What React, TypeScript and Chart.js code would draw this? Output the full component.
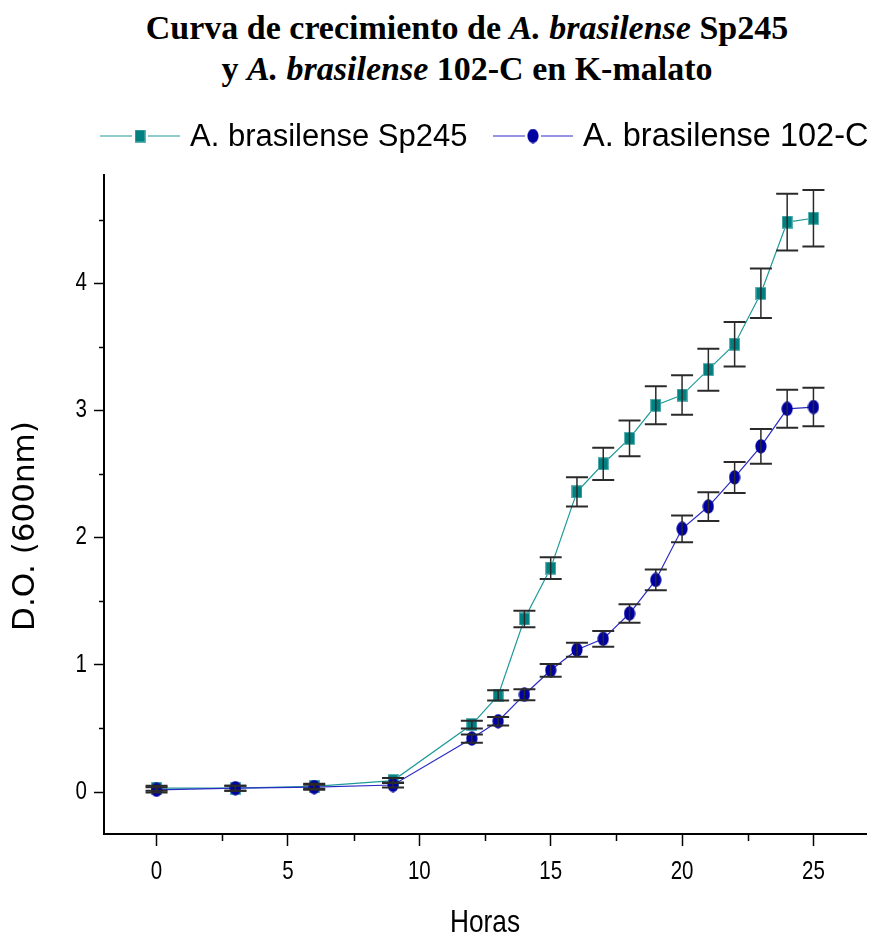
import React, { useEffect, useRef } from 'react';
import { Chart, registerables } from 'chart.js';

Chart.register(...registerables);

// ---------- data ----------
const hours = [0, 3, 6, 9, 12, 13, 14, 15, 16, 17, 18, 19, 20, 21, 22, 23, 24, 25];
const sp245 = [0.03, 0.03, 0.045, 0.09, 0.53, 0.76, 1.36, 1.76, 2.36, 2.58, 2.78, 3.04, 3.12, 3.32, 3.52, 3.92, 4.48, 4.51];
const sp245Err = [0.02, 0.02, 0.02, 0.02, 0.03, 0.04, 0.065, 0.085, 0.115, 0.127, 0.14, 0.15, 0.155, 0.165, 0.175, 0.195, 0.223, 0.223];
const c102 = [0.017, 0.03, 0.038, 0.055, 0.42, 0.556, 0.765, 0.957, 1.118, 1.204, 1.403, 1.667, 2.069, 2.244, 2.473, 2.717, 3.012, 3.026];
const c102Err = [0.02, 0.02, 0.02, 0.02, 0.033, 0.034, 0.043, 0.05, 0.055, 0.062, 0.072, 0.082, 0.105, 0.113, 0.122, 0.137, 0.149, 0.151];
const seriesNames = ['A. brasilense Sp245', 'A. brasilense 102-C'];
const xTicks = [0, 5, 10, 15, 20, 25];
const xMinorTicks = [2.5, 7.5, 12.5, 17.5, 22.5];
const yTicks = [0, 1, 2, 3, 4];
const yMinorTicks = [0.5, 1.5, 2.5, 3.5, 4.5];
const xTitle = 'Horas';
const yTitle = 'D.O. (600nm)';

const TEAL = '#008080';
const TEAL_LINE = '#1f9a9a';
const NAVY = '#0000a0';
const BLUE_LINE = '#2a2ac4';
const SANS = '"Liberation Sans", Arial, sans-serif';

function makeSquare(): HTMLCanvasElement {
  const c = document.createElement('canvas');
  c.width = 11;
  c.height = 13;
  const ctx = c.getContext('2d')!;
  ctx.fillStyle = '#5fb3b3';
  ctx.fillRect(0, 0, 11, 13);
  ctx.fillStyle = TEAL;
  ctx.fillRect(1, 1, 9, 11);
  return c;
}

function makeEllipse(): HTMLCanvasElement {
  const c = document.createElement('canvas');
  c.width = 12;
  c.height = 15;
  const ctx = c.getContext('2d')!;
  ctx.fillStyle = NAVY;
  ctx.beginPath();
  ctx.ellipse(6, 7.5, 5.6, 7.2, 0, 0, Math.PI * 2);
  ctx.fill();
  return c;
}

function narrowText(ctx: CanvasRenderingContext2D, text: string, x: number, y: number, size: number, align: CanvasTextAlign) {
  ctx.save();
  ctx.translate(x, y);
  ctx.scale(0.82, 1);
  ctx.font = `${size}px ${SANS}`;
  ctx.fillStyle = '#000';
  ctx.textAlign = align;
  ctx.textBaseline = 'middle';
  ctx.fillText(text, 0, 0);
  ctx.restore();
}

export default function App() {
  const canvasRef = useRef<HTMLCanvasElement | null>(null);

  useEffect(() => {
    const canvas = canvasRef.current;
    if (!canvas) return;
    const sq = makeSquare();
    const el = makeEllipse();
    const errs = [sp245Err, c102Err];

    const errorBars = {
      id: 'errorBars',
      afterDatasetsDraw(chart: any) {
        const { ctx } = chart;
        const xs = chart.scales.x;
        const ys = chart.scales.y;
        ctx.save();
        chart.data.datasets.forEach((ds: any, di: number) => {
          ds.data.forEach((p: any, i: number) => {
            const e = errs[di][i];
            const x = xs.getPixelForValue(p.x);
            const yt = ys.getPixelForValue(p.y + e);
            const yb = ys.getPixelForValue(p.y - e);
            ctx.strokeStyle = '#2a2a2a';
            ctx.lineWidth = 1.5;
            ctx.beginPath();
            ctx.moveTo(x, yt);
            ctx.lineTo(x, yb);
            ctx.stroke();
            ctx.lineWidth = 2;
            ctx.beginPath();
            ctx.moveTo(x - 11, yt);
            ctx.lineTo(x + 11, yt);
            ctx.moveTo(x - 11, yb);
            ctx.lineTo(x + 11, yb);
            ctx.stroke();
          });
        });
        ctx.restore();
      },
    };

    const extras = {
      id: 'extras',
      afterDraw(chart: any) {
        const { ctx, chartArea } = chart;
        const xs = chart.scales.x;
        const ys = chart.scales.y;
        ctx.save();
        // minor ticks
        ctx.strokeStyle = '#000';
        ctx.lineWidth = 1.5;
        ctx.beginPath();
        xMinorTicks.forEach((v) => {
          const x = Math.round(xs.getPixelForValue(v)) + 0.5;
          ctx.moveTo(x, chartArea.bottom);
          ctx.lineTo(x, chartArea.bottom + 7);
        });
        yMinorTicks.forEach((v) => {
          const y = Math.round(ys.getPixelForValue(v)) + 0.5;
          ctx.moveTo(chartArea.left - 5, y);
          ctx.lineTo(chartArea.left, y);
        });
        ctx.stroke();

        // tick labels (narrow)
        xTicks.forEach((v) => narrowText(ctx, String(v), xs.getPixelForValue(v), chartArea.bottom + 38, 25, 'center'));
        yTicks.forEach((v) => narrowText(ctx, String(v), chartArea.left - 17, ys.getPixelForValue(v), 25, 'right'));

        // x-axis title
        narrowText(ctx, xTitle, (chartArea.left + chartArea.right) / 2, 923, 32, 'center');

        // y-axis title
        ctx.save();
        ctx.translate(25.5, 526);
        ctx.rotate(-Math.PI / 2);
        ctx.font = '31px "DejaVu Sans", sans-serif';
        ctx.fillStyle = '#000';
        ctx.textAlign = 'center';
        ctx.textBaseline = 'middle';
        ctx.fillText(yTitle, 0, 0);
        ctx.restore();

        // legend
        const items = [
          { x: 100, name: seriesNames[0], line: TEAL_LINE, img: sq, size: 31 },
          { x: 493, name: seriesNames[1], line: BLUE_LINE, img: el, size: 32.5 },
        ];
        const ly = 136;
        items.forEach((it) => {
          ctx.strokeStyle = it.line;
          ctx.lineWidth = 1.2;
          ctx.beginPath();
          ctx.moveTo(it.x, ly);
          ctx.lineTo(it.x + 32, ly);
          ctx.moveTo(it.x + 48, ly);
          ctx.lineTo(it.x + 80, ly);
          ctx.stroke();
          ctx.drawImage(it.img, it.x + 40 - it.img.width / 2, ly - it.img.height / 2);
          ctx.font = `${it.size}px ${SANS}`;
          ctx.fillStyle = '#000';
          ctx.textAlign = 'left';
          ctx.textBaseline = 'middle';
          ctx.fillText(it.name, it.x + 90, ly + 1);
        });
        ctx.restore();
      },
    };

    const chart = new Chart(canvas, {
      type: 'line',
      data: {
        datasets: [
          {
            label: seriesNames[0],
            data: hours.map((h, i) => ({ x: h, y: sp245[i] })),
            borderColor: TEAL_LINE,
            borderWidth: 1.2,
            pointStyle: sq as any,
            pointRadius: 6,
            pointHoverRadius: 6,
            tension: 0,
            order: 1,
          },
          {
            label: seriesNames[1],
            data: hours.map((h, i) => ({ x: h, y: c102[i] })),
            borderColor: BLUE_LINE,
            borderWidth: 1.2,
            pointStyle: el as any,
            pointRadius: 6,
            pointHoverRadius: 6,
            tension: 0,
            order: 0,
          },
        ],
      },
      options: {
        animation: false,
        responsive: false,
        devicePixelRatio: 1,
        layout: { padding: { top: 175, right: 9, left: 0, bottom: 0 } },
        plugins: {
          legend: { display: false },
          title: { display: false },
          tooltip: { enabled: false },
        },
        scales: {
          x: {
            type: 'linear',
            min: -2,
            max: 27,
            afterBuildTicks: (s: any) => {
              s.ticks = xTicks.map((v) => ({ value: v }));
            },
            afterFit: (s: any) => {
              s.height = 108;
            },
            grid: { drawOnChartArea: false, drawTicks: true, tickLength: 12, tickWidth: 1.5, tickColor: '#000' },
            border: { display: true, color: '#000', width: 2 },
            ticks: { display: false, autoSkip: false },
            title: { display: false, text: xTitle },
          },
          y: {
            type: 'linear',
            min: -0.33,
            max: 4.85,
            afterBuildTicks: (s: any) => {
              s.ticks = yTicks.map((v) => ({ value: v }));
            },
            afterFit: (s: any) => {
              s.width = 104;
            },
            grid: { drawOnChartArea: false, drawTicks: true, tickLength: 10, tickWidth: 1.5, tickColor: '#000' },
            border: { display: true, color: '#000', width: 2 },
            ticks: { display: false, autoSkip: false },
            title: { display: false, text: yTitle },
          },
        },
      },
      plugins: [errorBars, extras],
    });

    return () => chart.destroy();
  }, []);

  return (
    <div
      style={{
        position: 'absolute',
        left: 0,
        top: 0,
        width: 875,
        height: 942,
        overflow: 'hidden',
        background: '#fff',
      }}
    >
      <div
        style={{
          position: 'absolute',
          left: 60,
          top: 7,
          width: 814,
          textAlign: 'center',
          fontFamily: '"Liberation Serif", "Times New Roman", serif',
          fontWeight: 'bold',
          fontSize: 34,
          lineHeight: '41px',
          color: '#000',
        }}
      >
        Curva de crecimiento de <i>A. brasilense</i> Sp245
        <br />y <i>A. brasilense</i> 102-C en K-malato
      </div>
      <canvas ref={canvasRef} width={875} height={942} style={{ position: 'absolute', left: 0, top: 0 }} />
    </div>
  );
}
